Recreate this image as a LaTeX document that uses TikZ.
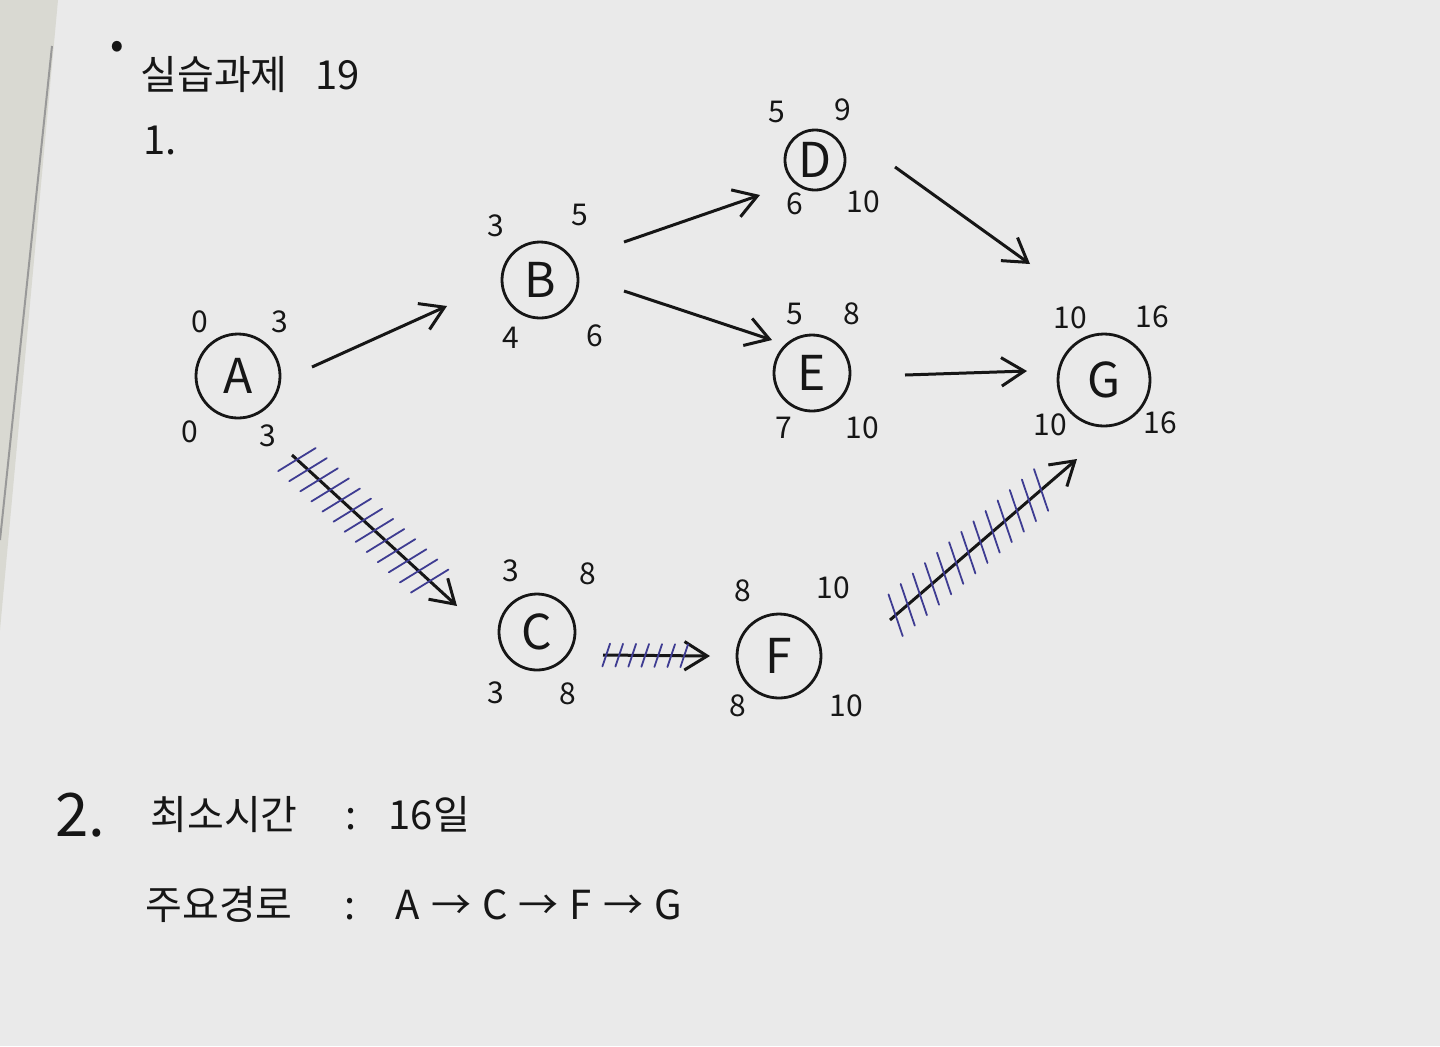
\documentclass[tikz,border=0pt]{standalone}
\usepackage{fontspec}
\setmainfont{Noto Sans CJK KR}
\usepackage{xcolor}
\usepackage{tikz}
\usetikzlibrary{arrows.meta,decorations.markings}
\definecolor{paper}{HTML}{EAEAEA}
\definecolor{edge}{HTML}{D9D9D2}
\definecolor{ink}{HTML}{161616}
\definecolor{pen}{HTML}{3E3C92}
\tikzset{
  event/.style ={circle,draw=ink,line width=1.4pt,minimum size=#1,inner sep=0pt,
                 text=ink,font=\fontsize{24}{24}\selectfont},
  num/.style   ={inner sep=0pt,text=ink,font=\fontsize{15}{15}\selectfont},
  note/.style  ={inner sep=0pt,anchor=west,text=ink,font=\fontsize{20}{24}\selectfont},
  flow/.style  ={-{Straight Barb[length=4mm,width=5mm]},line width=1.5pt,draw=ink},
  hatch/.style n args={3}{postaction={decorate,decoration={markings,
                 mark=between positions 0.03 and 0.86 step #1 with
                 {\draw[-,pen,line width=0.9pt,line cap=round] (#3:-#2) -- (#3:#2);}}}}
}
\begin{document}
\begin{tikzpicture}[x=0.5pt,y=-0.5pt]
  \useasboundingbox (0,0) rectangle (1440,1046);
  \fill[paper] (0,0) rectangle (1440,1046);
  \fill[edge] (0,0) -- (58,0) -- (0,630) -- cycle;
  \draw[gray!80,line width=1pt] (52,46) -- (0,540);

  % headings
  \node[note] (dot) at (110,50) {•};
  \node[note] (title) at (140,75) {실습과제\hspace{14pt}19};
  \node[note] (one) at (143,140) {1.};

  % events
  \node[event=42pt] (A) at (238,376) {A};
  \node[event=38pt] (B) at (540,280) {B};
  \node[event=38pt] (C) at (537,632) {C};
  \node[event=30pt] (D) at (815,160) {D};
  \node[event=38pt] (E) at (812,373) {E};
  \node[event=42pt] (F) at (779,656) {F};
  \node[event=46pt] (G) at (1104,380) {G};

  % earliest / latest times
  \node[num] (A1) at (200,322) {0};  \node[num] (A2) at (280,322) {3};
  \node[num] (A3) at (190,432) {0};  \node[num] (A4) at (268,436) {3};
  \node[num] (B1) at (496,226) {3};  \node[num] (B2) at (580,215) {5};
  \node[num] (B3) at (511,338) {4};  \node[num] (B4) at (595,336) {6};
  \node[num] (C1) at (511,571) {3};  \node[num] (C2) at (588,574) {8};
  \node[num] (C3) at (496,693) {3};  \node[num] (C4) at (568,694) {8};
  \node[num] (D1) at (777,112) {5};  \node[num] (D2) at (843,110) {9};
  \node[num] (D3) at (795,204) {6};  \node[num] (D4) at (863,202) {10};
  \node[num] (E1) at (795,314) {5};  \node[num] (E2) at (852,314) {8};
  \node[num] (E3) at (784,428) {7};  \node[num] (E4) at (862,428) {10};
  \node[num] (F1) at (743,591) {8};  \node[num] (F2) at (833,588) {10};
  \node[num] (F3) at (738,706) {8};  \node[num] (F4) at (846,706) {10};
  \node[num] (G1) at (1070,318) {10}; \node[num] (G2) at (1152,317) {16};
  \node[num] (G3) at (1050,425) {10}; \node[num] (G4) at (1160,423) {16};

  % activities
  \draw[flow] ([shift={(74,-9)}]A.center) -- ([shift={(-93,26)}]B.center);
  \draw[flow] ([shift={(84,-38)}]B.center) -- ([shift={(-55,35)}]D.center);
  \draw[flow] ([shift={(84,11)}]B.center) -- ([shift={(-40,-33)}]E.center);
  \draw[flow] ([shift={(80,7)}]D.center) -- ([shift={(-74,-116)}]G.center);
  \draw[flow] ([shift={(93,2)}]E.center) -- ([shift={(-77,-9)}]G.center);
  % critical path
  \draw[flow,hatch={7.5pt}{11pt}{74}] ([shift={(54,79)}]A.center) -- ([shift={(-80,-26)}]C.center);
  \draw[flow,hatch={6.5pt}{6pt}{72}] ([shift={(66,23)}]C.center) -- ([shift={(-69,0)}]F.center);
  \draw[flow,hatch={8pt}{11pt}{68}] ([shift={(111,-36)}]F.center) -- ([shift={(-27,79)}]G.center);

  % answers
  \node[note,font=\fontsize{30}{30}\selectfont] (two) at (55,815) {2.};
  \node[note] (time) at (150,815) {최소시간\hspace{24pt}:\hspace{16pt}16일};
  \node[note] (path) at (145,905) {주요경로\hspace{26pt}:\hspace{20pt}A\;→\;C\;→\;F\;→\;G};
\end{tikzpicture}
\end{document}
